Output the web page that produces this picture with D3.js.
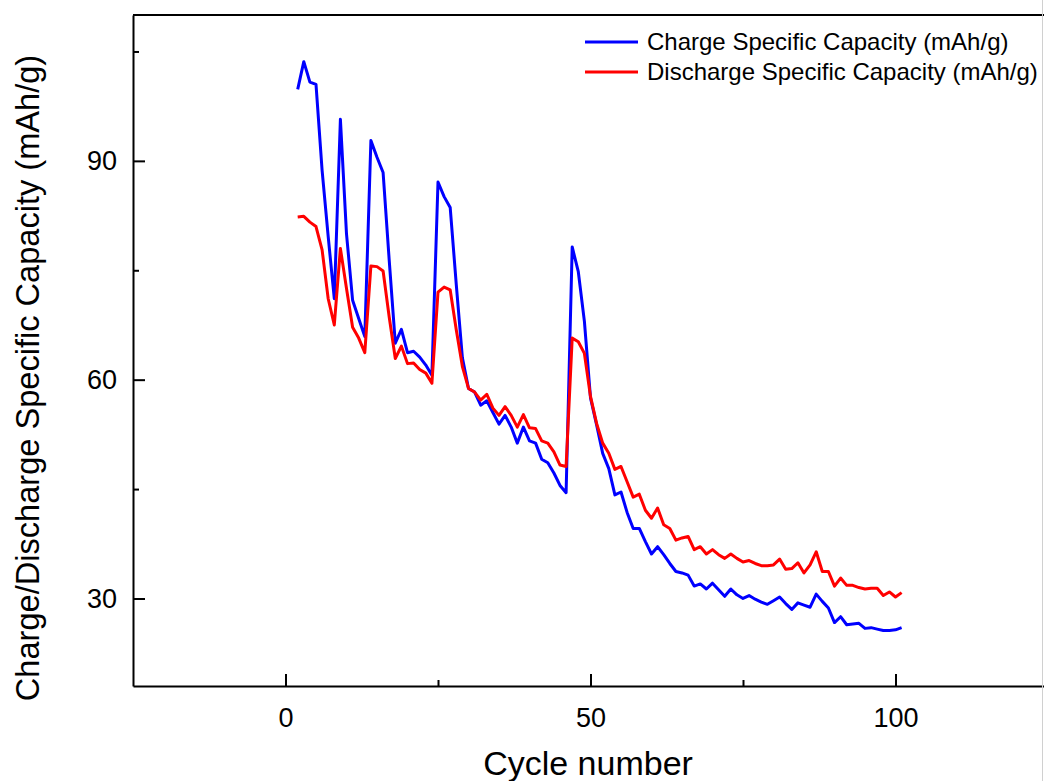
<!DOCTYPE html>
<html>
<head>
<meta charset="utf-8">
<script src="https://cdn.jsdelivr.net/npm/d3@7"></script>
<style>
  html, body { margin: 0; padding: 0; background: #fff; }
  svg { display: block; font-family: "Liberation Sans", Arial, sans-serif; }
  .axis path, .axis line { stroke: #000; stroke-width: 2; }
  .axis text { font-size: 27px; fill: #000; }
</style>
</head>
<body>
<div id="graphic"></div>
<script>
// cycle numbers and capacities
const cycles = d3.range(2, 102);

const chargeCapacity = [
  99.8, 103.6, 100.8, 100.5, 88.7, 79.6, 71.1, 95.7, 80.0, 70.9,
  68.4, 65.9, 92.8, 90.5, 88.4, 76.4, 65.0, 66.9, 63.7, 63.9,
  63.1, 62.0, 60.6, 87.1, 85.1, 83.6, 73.0, 63.0, 58.8, 58.3,
  56.5, 57.1, 55.5, 53.9, 55.1, 53.5, 51.3, 53.5, 51.6, 51.3,
  49.1, 48.6, 47.2, 45.5, 44.5, 78.2, 74.8, 68.0, 57.5, 53.8,
  49.9, 47.8, 44.2, 44.6, 41.8, 39.6, 39.6, 37.8, 36.1, 37.1,
  36.0, 34.8, 33.7, 33.5, 33.2, 31.7, 32.0, 31.3, 32.1, 31.2,
  30.3, 31.3, 30.5, 30.0, 30.4, 29.9, 29.5, 29.2, 29.7, 30.2,
  29.3, 28.5, 29.4, 29.1, 28.8, 30.6, 29.6, 28.7, 26.7, 27.5,
  26.4, 26.5, 26.6, 25.9, 26.0, 25.8, 25.6, 25.6, 25.7, 26.0
];

const dischargeCapacity = [
  82.3, 82.4, 81.6, 81.0, 77.8, 71.1, 67.5, 78.0, 72.5, 67.2,
  65.7, 63.7, 75.6, 75.5, 74.9, 68.6, 62.9, 64.6, 62.2, 62.3,
  61.4, 60.9, 59.5, 72.0, 72.7, 72.3, 66.8, 61.8, 58.8, 58.3,
  57.2, 58.0, 56.1, 55.1, 56.3, 55.1, 53.5, 55.2, 53.4, 53.3,
  51.6, 51.3, 50.1, 48.3, 48.1, 65.7, 65.2, 63.6, 57.7, 54.0,
  51.3, 49.9, 47.7, 48.1, 46.0, 43.9, 44.3, 42.1, 41.0, 42.4,
  40.1, 39.6, 38.0, 38.3, 38.5, 36.7, 37.1, 36.1, 36.7, 36.0,
  35.5, 36.1, 35.5, 35.0, 35.2, 34.8, 34.5, 34.5, 34.6, 35.4,
  34.0, 34.1, 34.9, 33.5, 34.6, 36.4, 33.7, 33.7, 31.7, 32.8,
  31.8, 31.8, 31.5, 31.3, 31.4, 31.4, 30.4, 30.9, 30.2, 30.8
];

const seriesNames = ["Charge Specific Capacity (mAh/g)", "Discharge Specific Capacity (mAh/g)"];
const seriesColours = ["#0000ff", "#ff0000"];

const xTicks = [0, 50, 100];
const xMinorTicks = [25, 75];
const yTicks = [30, 60, 90];
const yMinorTicks = [45, 75, 105];

const width = 1044, height = 781;
const margin = { top: 15, right: -4, bottom: 95, left: 133 };
const chartWidth = width - margin.left - margin.right;
const chartHeight = height - margin.top - margin.bottom;

const svg = d3.select('#graphic')
  .append('svg')
  .attr('width', width)
  .attr('height', height);

const g = svg.append('g')
  .attr('transform', `translate(${margin.left},${margin.top})`);

const x = d3.scaleLinear().domain([-25, 125]).range([0, chartWidth]);
const y = d3.scaleLinear().domain([18, 110]).range([chartHeight, 0]);

// top frame line
g.append('line')
  .attr('x1', 0).attr('x2', chartWidth)
  .attr('y1', 0).attr('y2', 0)
  .attr('stroke', '#000').attr('stroke-width', 2);

// thin grey border at the right of the picture
svg.append('line')
  .attr('x1', width - 1.5).attr('x2', width - 1.5)
  .attr('y1', 0).attr('y2', height)
  .attr('stroke', '#d0d0d0').attr('stroke-width', 1);

// minor ticks (inward)
g.append('g')
  .attr('class', 'axis')
  .attr('transform', `translate(0,${chartHeight})`)
  .call(d3.axisBottom(x).tickValues(xMinorTicks).tickSize(-6).tickFormat(''))
  .select('.domain').remove();
g.append('g')
  .attr('class', 'axis')
  .call(d3.axisLeft(y).tickValues(yMinorTicks).tickSize(-6).tickFormat(''))
  .select('.domain').remove();

// main axes
g.append('g')
  .attr('class', 'x axis')
  .attr('transform', `translate(0,${chartHeight})`)
  .call(d3.axisBottom(x).tickValues(xTicks).tickSizeInner(-12).tickSizeOuter(0).tickPadding(22));

g.append('g')
  .attr('class', 'y axis')
  .call(d3.axisLeft(y).tickValues(yTicks).tickSizeInner(-12).tickSizeOuter(0).tickPadding(16));

// lines
const dataSets = [chargeCapacity, dischargeCapacity];
dataSets.forEach((vals, i) => {
  const line = d3.line()
    .x((d, j) => x(cycles[j]))
    .y(d => y(d));
  g.append('path')
    .datum(vals)
    .attr('fill', 'none')
    .attr('stroke', seriesColours[i])
    .attr('stroke-width', 3)
    .attr('stroke-linejoin', 'round')
    .attr('d', line);
});

// axis titles
svg.append('text')
  .attr('x', 588)
  .attr('y', 775)
  .attr('text-anchor', 'middle')
  .style('font-size', '34px')
  .text('Cycle number');

svg.append('text')
  .attr('transform', `translate(39,378) rotate(-90)`)
  .attr('text-anchor', 'middle')
  .style('font-size', '32.6px')
  .text('Charge/Discharge Specific Capacity (mAh/g)');

// legend
const legend = svg.append('g').attr('transform', 'translate(585,42)');
seriesNames.forEach((name, i) => {
  const item = legend.append('g').attr('transform', `translate(0,${i * 30})`);
  item.append('line')
    .attr('x1', 0).attr('x2', 53)
    .attr('y1', 0).attr('y2', 0)
    .attr('stroke', seriesColours[i])
    .attr('stroke-width', 3);
  item.append('text')
    .attr('x', 62)
    .attr('y', 0)
    .attr('dy', '0.35em')
    .style('font-size', '24px')
    .text(name);
});
</script>
</body>
</html>
